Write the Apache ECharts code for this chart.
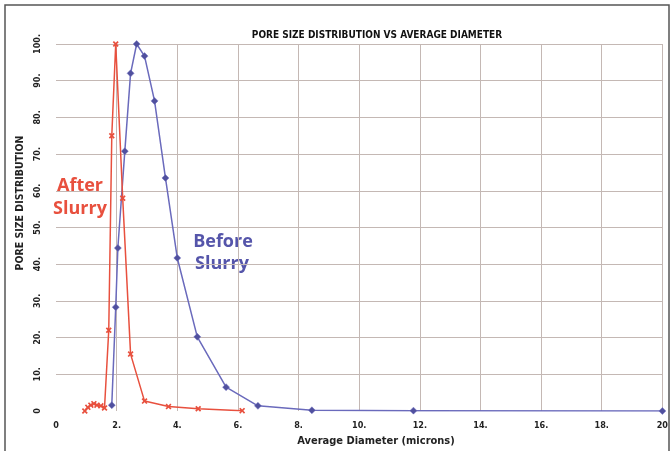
<!DOCTYPE html>
<html>
<head>
<meta charset="utf-8">
<script src="https://cdn.jsdelivr.net/npm/echarts@6/dist/echarts.min.js"></script>
<style>
html,body{margin:0;padding:0;background:#fff;}
#c{width:671px;height:451px;}
</style>
</head>
<body>
<div id="c"></div>
<script>
var titleText = 'PORE SIZE DISTRIBUTION VS AVERAGE DIAMETER';
var xName = 'Average Diameter (microns)';
var yName = 'PORE SIZE DISTRIBUTION';
var beforeName = 'Before Slurry';
var afterName = 'After Slurry';

var beforeX = [1.84, 1.97, 2.04, 2.27, 2.46, 2.66, 2.92, 3.25, 3.61, 4.0, 4.66, 5.61, 6.66, 8.44, 11.79, 20];
var beforeY = [1.6, 28.3, 44.4, 70.8, 92, 100, 96.7, 84.5, 63.5, 41.7, 20.2, 6.5, 1.4, 0.2, 0.1, 0];

var afterX = [0.95, 1.05, 1.15, 1.25, 1.35, 1.48, 1.6, 1.74, 1.84, 1.97, 2.2, 2.46, 2.92, 3.71, 4.69, 6.14];
var afterY = [0, 1, 1.6, 2, 1.6, 1.4, 0.8, 22, 75, 100, 58, 15.5, 2.7, 1.2, 0.6, 0.1];

var xTicks = ['0', '2.', '4.', '6.', '8.', '10.', '12.', '14.', '16.', '18.', '20'];
var yTicks = ['0', '10.', '20.', '30.', '40.', '50.', '60.', '70.', '80.', '90.', '100.'];

function pairs(xs, ys){ return xs.map(function(x,i){ return [x, ys[i]]; }); }

var gridColor = '#c4b8b4';
var lblFont = '"Liberation Sans Narrow", "DejaVu Sans Condensed", sans-serif';
var red = '#e8503e';
var blue = '#6a6abc';
var xShape = 'path://M2,0 L5,3 L8,0 L10,2 L7,5 L10,8 L8,10 L5,7 L2,10 L0,8 L3,5 L0,2 Z';
var gridColors = ['rgba(0,0,0,0)', gridColor, gridColor, gridColor, gridColor, gridColor, gridColor, gridColor, gridColor, gridColor, gridColor];

var chart = echarts.init(document.getElementById('c'), null, {renderer:'canvas'});
chart.setOption({
  animation: false,
  backgroundColor: '#fff',
  grid: {left: 56, right: 7, top: 44, bottom: 40, containLabel: false},
  xAxis: {
    type: 'value', min: 0, max: 20, interval: 2,
    axisLine: {show: false}, axisTick: {show: false},
    splitLine: {show: true, lineStyle: {color: gridColors, width: 1}},
    axisLabel: {
      margin: 10, color: '#222', fontFamily: lblFont, fontWeight: 'bold', fontSize: 9,
      formatter: function(v){ return xTicks[Math.round(v/2)]; }
    }
  },
  yAxis: {
    type: 'value', min: 0, max: 100, interval: 10,
    axisLine: {show: false}, axisTick: {show: false},
    splitLine: {show: true, lineStyle: {color: gridColors, width: 1}},
    axisLabel: {
      rotate: 90, margin: 14, color: '#222', fontFamily: lblFont, fontWeight: 'bold', fontSize: 9,
      formatter: function(v){ return yTicks[Math.round(v/10)]; }
    }
  },
  series: [
    {
      name: beforeName, type: 'line', data: pairs(beforeX, beforeY),
      symbol: 'diamond', symbolSize: 7,
      lineStyle: {color: blue, width: 1.5},
      itemStyle: {color: '#50509e', borderColor: '#7070c0', borderWidth: 0.5},
      z: 3
    },
    {
      name: afterName, type: 'line', data: pairs(afterX, afterY),
      symbol: xShape, symbolSize: 6,
      lineStyle: {color: red, width: 1.5},
      itemStyle: {color: red},
      z: 4
    }
  ],
  graphic: [
    {type: 'rect', shape: {x: 5, y: 5, width: 664, height: 470}, style: {fill: 'none', stroke: '#555', lineWidth: 1.5}, silent: true},
    {type: 'text', x: 377, y: 35, style: {text: titleText, textAlign: 'center', textVerticalAlign: 'middle', font: 'bold 10px ' + lblFont, fill: '#111'}},
    {type: 'text', x: 376, y: 441, style: {text: xName, textAlign: 'center', textVerticalAlign: 'middle', font: 'bold 11px ' + lblFont, fill: '#222'}},
    {type: 'text', x: 20, y: 203, rotation: Math.PI/2, style: {text: yName, textAlign: 'center', textVerticalAlign: 'middle', font: 'bold 10.5px ' + lblFont, fill: '#222'}},
    {type: 'text', x: 80, y: 186, style: {text: 'After', textAlign: 'center', textVerticalAlign: 'middle', font: 'bold 18px "Open Sans", sans-serif', fill: red}},
    {type: 'text', x: 80, y: 209, style: {text: 'Slurry', textAlign: 'center', textVerticalAlign: 'middle', font: 'bold 18px "Open Sans", sans-serif', fill: red}},
    {type: 'text', x: 223, y: 242, style: {text: 'Before', textAlign: 'center', textVerticalAlign: 'middle', font: 'bold 18px "Open Sans", sans-serif', fill: '#5555aa'}},
    {type: 'text', x: 222, y: 264, style: {text: 'Slurry', textAlign: 'center', textVerticalAlign: 'middle', font: 'bold 18px "Open Sans", sans-serif', fill: '#5555aa'}}
  ]
});
</script>
</body>
</html>
